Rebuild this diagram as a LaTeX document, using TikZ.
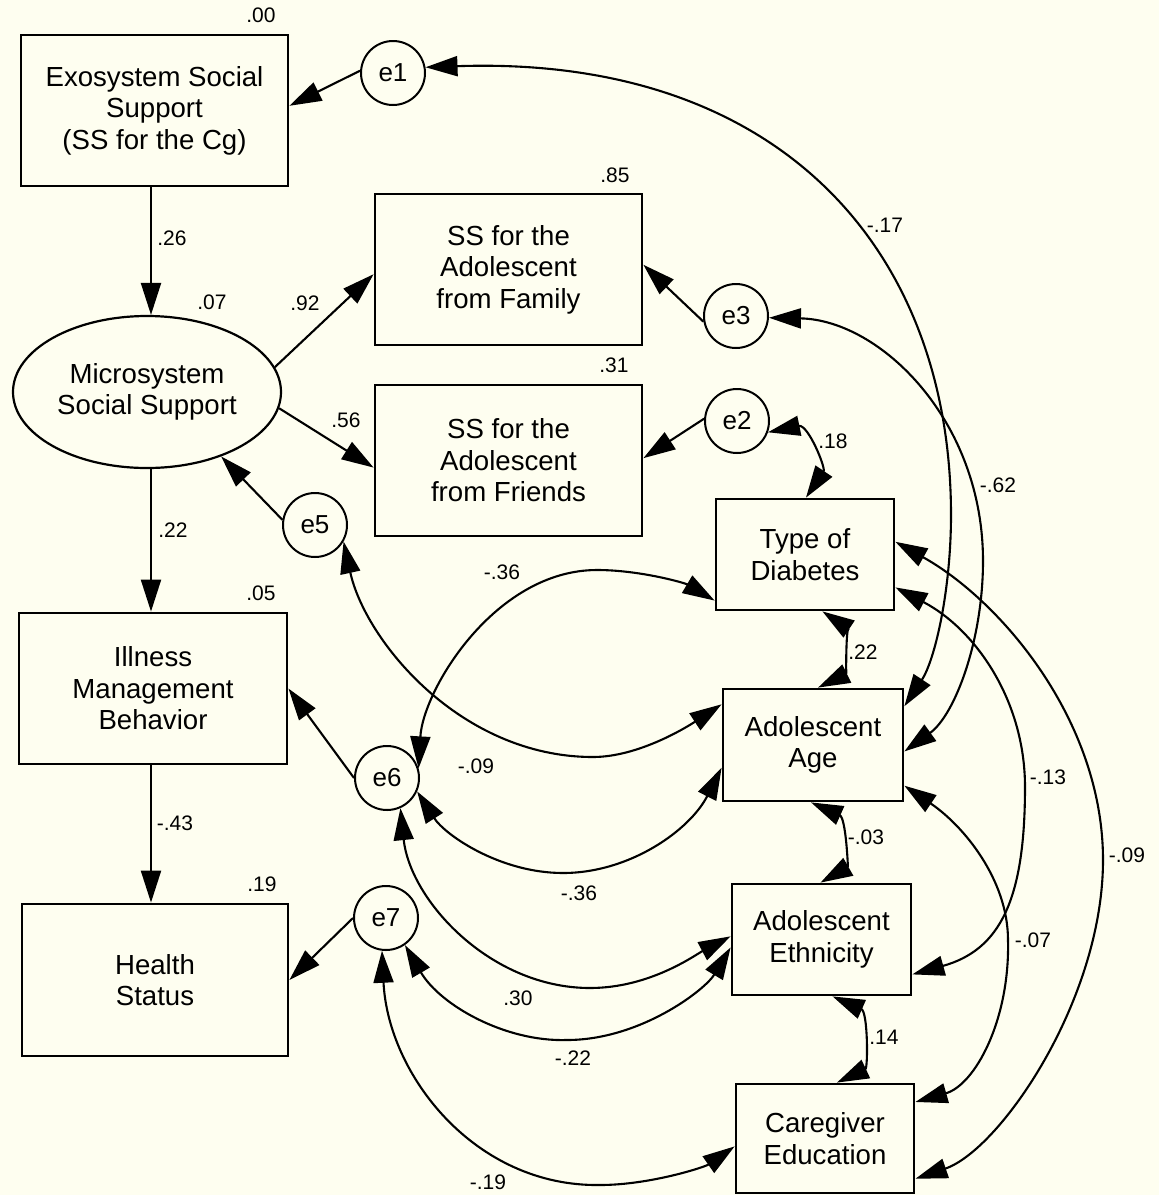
\documentclass[tikz,border=0pt]{standalone}
\usepackage{fontspec}
\setmainfont{Liberation Sans}
\usetikzlibrary{arrows.meta,shapes.geometric}
\definecolor{paper}{RGB}{254,254,240}
\newcommand\boxfont{\fontsize{13.8}{15.75}\selectfont}
\newcommand\errfont{\fontsize{13}{14}\selectfont}
\newcommand\coeffont{\fontsize{10.5}{12}\selectfont}
\tikzset{
  obsbox/.style={draw, rectangle, line width=1.4pt, inner sep=0pt, align=center, font=\boxfont},
  latent/.style={draw, ellipse, line width=1.1pt, inner sep=0pt, align=center, font=\boxfont},
  err/.style={draw, circle, line width=1pt, minimum size=32pt, inner sep=0pt, font=\errfont},
  coef/.style={inner sep=0pt, font=\coeffont},
  regr/.style={line width=1.05pt, -{Triangle[length=16pt,width=10pt]}},
  covar/.style={line width=1.05pt, {Triangle[length=16pt,width=10pt]}-{Triangle[length=16pt,width=10pt]}},
}
\begin{document}
\begin{tikzpicture}[x=0.5pt,y=-0.5pt]
% canvas
\fill[paper] (0,0) rectangle (1159,1195);
\useasboundingbox (0,0) rectangle (1159,1195);
\coordinate (colx) at (151,0);

% observed and latent variables
\node[obsbox, minimum width=133.5pt, minimum height=75.5pt] (exo) at (154.5,110.5) {Exosystem Social\\Support\\(SS for the Cg)};
\node[latent, minimum width=134pt, minimum height=76pt] (micro) at (147,392) {Microsystem\\Social Support};
\node[obsbox, minimum width=133.5pt, minimum height=75.5pt] (fam) at (508.5,269.5) {SS for the\\Adolescent\\from Family};
\node[obsbox, minimum width=133.5pt, minimum height=75.5pt] (fri) at (508.5,460.5) {SS for the\\Adolescent\\from Friends};
\node[obsbox, minimum width=134pt, minimum height=75.5pt] (ill) at (153,688.5) {Illness\\Management\\Behavior};
\node[obsbox, minimum width=133pt, minimum height=76pt] (hea) at (155,980) {Health\\Status};
\node[obsbox, minimum width=89pt, minimum height=55.5pt] (dia) at (805,554.5) {Type of\\Diabetes};
\node[obsbox, minimum width=90pt, minimum height=56pt] (age) at (813,745) {Adolescent\\Age};
\node[obsbox, minimum width=89.5pt, minimum height=55.5pt] (eth) at (821.5,939.5) {Adolescent\\Ethnicity};
\node[obsbox, minimum width=89pt, minimum height=54.5pt] (cg) at (825,1138.5) {Caregiver\\Education};

% error terms
\node[err] (e1) at (393,73) {e1};
\node[err] (e3) at (736,316) {e3};
\node[err] (e2) at (737,421) {e2};
\node[err] (e5) at (315,525) {e5};
\node[err] (e6) at (387,778) {e6};
\node[err] (e7) at (386,918) {e7};

% regression paths
\draw[regr] (e1.176) -- (exo.2);
\draw[regr] (exo.south -| colx) -- (micro.north -| colx);
\draw[regr] (micro.11) -- (fam.182);
\draw[regr] (micro.-7) -- (fri.183);
\draw[regr] (e3.190) -- (fam.2);
\draw[regr] (e2.176) -- (fri.1);
\draw[regr] (e5.171) -- (micro.-41);
\draw[regr] (micro.south -| colx) -- (ill.north -| colx);
\draw[regr] (e6.180) -- (ill.east);
\draw[regr] (ill.south -| colx) -- (hea.north -| colx);
\draw[regr] (e7.180) -- (hea.east);

% covariances
\draw[covar] (e1.10) .. controls (780,55) and (951,250) .. (951,515) .. controls (951,590) and (935,660) .. (age.23);
\draw[covar] (e3.-3) .. controls (880,320) and (983,420) .. (983,561) .. controls (983,640) and (955,715) .. (age.-4);
\draw[covar] (e2.-20) .. controls (808,424) and (826,468) .. (dia.89);
\draw[covar] (dia.-73) .. controls (846,627) and (846,674) .. (age.85);
\draw[covar] (age.-92) .. controls (846,818) and (848,867) .. (eth.91);
\draw[covar] (eth.-79) .. controls (868,1012) and (868,1068) .. (cg.78);
\draw[covar] (dia.-20) .. controls (975,629) and (1025,700) .. (1025,787) .. controls (1025,900) and (1000,950) .. (eth.-21);
\draw[covar] (dia.8) .. controls (1000,600) and (1103,720) .. (1103,860) .. controls (1103,1000) and (1000,1150) .. (cg.-24);
\draw[covar] (age.-24) .. controls (964,826) and (1008,880) .. (1008,940) .. controls (1010,1020) and (975,1085) .. (cg.22);
\draw[covar] (e5.-30) .. controls (365,640) and (460,757) .. (593,757) .. controls (640,757) and (690,725) .. (age.156);
\draw[covar] (e6.17) .. controls (423,690) and (495,570) .. (597,570) .. controls (640,570) and (685,583) .. (dia.207);
\draw[covar] (e6.-24) .. controls (445,835) and (500,873) .. (563,873) .. controls (630,873) and (690,830) .. (age.194);
\draw[covar] (e6.-66) .. controls (410,900) and (490,988) .. (590,988) .. controls (650,988) and (695,955) .. (eth.178);
\draw[covar] (e7.-55) .. controls (440,1005) and (505,1042) .. (567,1040) .. controls (640,1040) and (705,990) .. (eth.185);
\draw[covar] (e7.-97) .. controls (388,1075) and (475,1187) .. (600,1185) .. controls (650,1185) and (705,1167) .. (cg.185);

% squared multiple correlations
\node[coef] (r2exo) at (261,15) {.00};
\node[coef] (r2micro) at (212,302) {.07};
\node[coef] (r2fam) at (615,175) {.85};
\node[coef] (r2fri) at (614,365) {.31};
\node[coef] (r2ill) at (261,593) {.05};
\node[coef] (r2hea) at (262,884) {.19};

% path coefficients
\node[coef] (bexo) at (172,238) {.26};
\node[coef] (bfam) at (305,303) {.92};
\node[coef] (bfri) at (346,420) {.56};
\node[coef] (bill) at (173,530) {.22};
\node[coef] (bhea) at (175,823) {-.43};

% correlations
\node[coef] (ce1age) at (885,225) {-.17};
\node[coef] (ce3age) at (998,485) {-.62};
\node[coef] (ce2dia) at (833,441) {.18};
\node[coef] (cdiaage) at (863,652) {.22};
\node[coef] (ce6dia) at (502,572) {-.36};
\node[coef] (ce5age) at (476,766) {-.09};
\node[coef] (ce6age) at (579,893) {-.36};
\node[coef] (cdiaeth) at (1048,777) {-.13};
\node[coef] (cageeth) at (866,837) {-.03};
\node[coef] (cagecg) at (1033,940) {-.07};
\node[coef] (cdiacg) at (1127,855) {-.09};
\node[coef] (ce6eth) at (518,998) {.30};
\node[coef] (ce7eth) at (573,1058) {-.22};
\node[coef] (cethcg) at (884,1037) {.14};
\node[coef] (ce7cg) at (488,1182) {-.19};
\end{tikzpicture}
\end{document}
